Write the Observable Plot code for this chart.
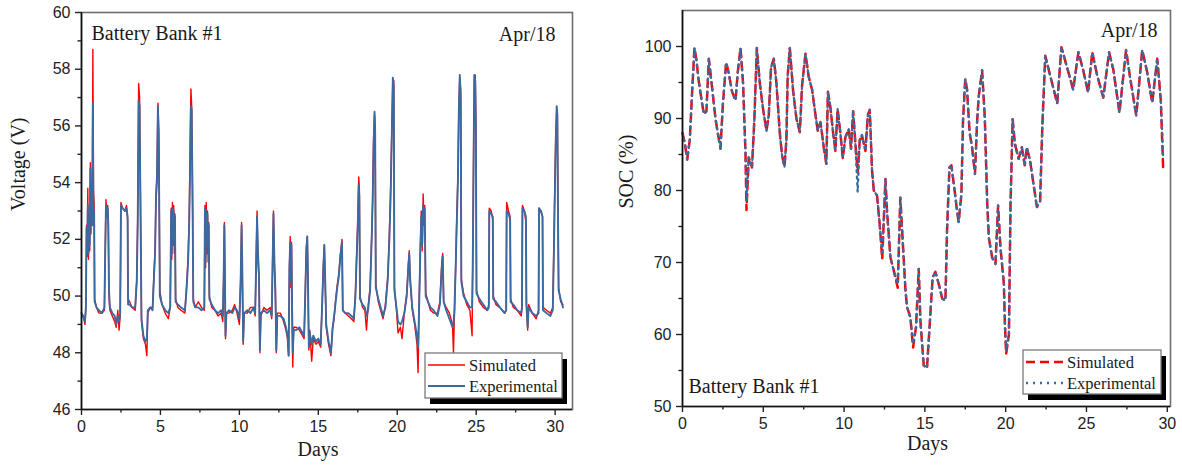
<!DOCTYPE html>
<html><head><meta charset="utf-8">
<script src="https://cdn.jsdelivr.net/npm/d3@7"></script>
<script src="https://cdn.jsdelivr.net/npm/@observablehq/plot@0.6"></script>
<style>
body{margin:0;background:#fff;}
#wrap{position:relative;width:1182px;height:467px;display:flex;}
#wrap svg{display:block}
</style></head><body>
<div id="wrap"></div>
<script>
// ---------- Voltage (left panel) ----------
const voltDays = [
0.00,0.10,0.22,0.28,0.32,0.36,0.40,0.44,0.48,0.52,
0.56,0.60,0.64,0.68,0.72,0.76,0.80,0.83,0.95,1.10,
1.30,1.45,1.50,1.55,1.60,1.66,1.70,1.74,1.80,1.95,
2.10,2.20,2.30,2.38,2.45,2.50,2.60,2.75,2.85,2.92,
2.95,3.05,3.20,3.40,3.50,3.56,3.62,3.68,3.74,3.80,
3.92,4.05,4.14,4.20,4.35,4.50,4.60,4.66,4.72,4.78,
4.84,4.90,4.96,5.10,5.30,5.50,5.62,5.68,5.72,5.76,
5.80,5.84,5.88,5.92,5.96,6.10,6.30,6.55,6.65,6.75,
6.82,6.88,6.93,6.98,7.04,7.08,7.20,7.40,7.60,7.78,
7.82,7.86,7.90,7.94,7.98,8.02,8.06,8.10,8.25,8.45,
8.65,8.85,8.95,9.00,9.05,9.08,9.12,9.18,9.35,9.55,
9.70,9.85,10.00,10.08,10.14,10.18,10.24,10.30,10.50,10.70,
10.90,11.00,11.05,11.12,11.18,11.24,11.30,11.36,11.55,11.75,
11.95,12.05,12.10,12.16,12.22,12.28,12.34,12.40,12.60,12.80,
12.95,13.05,13.12,13.17,13.22,13.26,13.30,13.34,13.38,13.44,
13.60,13.80,14.00,14.10,14.18,14.24,14.30,14.34,14.40,14.46,
14.58,14.68,14.85,15.00,15.15,15.25,15.32,15.38,15.44,15.50,
15.65,15.80,15.90,16.00,16.10,16.20,16.30,16.40,16.50,16.55,
16.70,16.90,17.10,17.25,17.35,17.42,17.50,17.56,17.60,17.64,
17.80,17.95,18.05,18.15,18.28,18.38,18.44,18.50,18.56,18.60,
18.64,18.80,18.95,19.10,19.25,19.40,19.50,19.58,19.66,19.72,
19.78,19.82,19.95,20.05,20.20,20.30,20.45,20.60,20.70,20.76,
20.82,20.95,21.10,21.25,21.32,21.38,21.46,21.52,21.58,21.64,
21.70,21.74,21.80,21.95,22.10,22.30,22.55,22.70,22.82,22.88,
22.94,23.10,23.30,23.50,23.56,23.62,23.70,23.78,23.84,23.90,
23.96,24.02,24.06,24.20,24.40,24.60,24.74,24.78,24.84,24.88,
24.94,24.98,25.02,25.20,25.45,25.70,25.80,25.83,25.95,26.05,
26.08,26.25,26.50,26.80,26.90,26.93,27.05,27.15,27.18,27.35,
27.60,27.85,27.90,27.93,28.05,28.15,28.18,28.26,28.32,28.55,
28.80,28.95,28.98,29.10,29.20,29.23,29.45,29.70,29.85,29.92,
29.98,30.04,30.10,30.14,30.18,30.22,30.35,30.50
];
const voltExperimental = [
49.4,49.3,49.1,49.6,52.4,51.6,53.2,51.5,52.8,51.8,
54.5,52.6,53.8,52.5,56.8,52.5,53.0,49.8,49.6,49.5,
49.4,49.6,51.5,53.2,52.8,53.1,52.5,50.2,49.6,49.4,
49.3,49.0,49.3,49.1,49.4,53.2,53.1,53.0,53.1,52.8,
49.7,49.7,49.6,49.6,50.5,52.5,56.9,56.7,52.8,49.2,
48.6,48.4,48.5,49.5,49.6,49.5,50.8,51.5,53.5,54.0,
56.7,55.2,50.0,49.7,49.5,49.4,49.6,53.0,51.5,53.1,
52.0,53.0,51.8,52.8,49.8,49.7,49.6,49.5,50.2,51.2,
52.5,54.5,56.7,56.6,53.0,49.8,49.6,49.6,49.5,49.6,
53.1,51.2,53.0,51.8,52.9,51.5,52.5,49.9,49.7,49.5,
49.4,49.5,49.3,50.5,52.5,51.0,48.6,49.4,49.5,49.4,
49.6,49.5,49.2,50.5,52.5,51.2,48.4,49.4,49.5,49.4,
49.6,49.4,50.8,52.8,51.5,50.8,48.1,49.4,49.5,49.4,
49.5,49.3,51.0,52.9,51.2,50.2,48.1,49.3,49.3,49.2,
48.9,48.6,47.9,51.0,51.9,50.5,51.8,49.5,48.0,48.8,
48.8,48.9,48.7,48.6,50.2,51.6,52.1,50.8,48.2,48.7,
48.3,48.6,48.4,48.5,48.3,49.8,51.0,51.8,50.5,49.0,
48.4,48.0,48.8,49.3,49.8,50.3,50.7,51.4,51.9,49.5,
49.4,49.4,49.3,49.2,50.0,51.2,52.5,53.9,53.5,49.9,
49.7,49.6,49.3,49.5,50.2,52.0,53.3,55.2,56.5,55.8,
50.3,49.9,49.6,49.3,49.6,50.6,52.0,53.5,55.8,57.7,
57.4,50.2,49.6,49.1,49.0,49.1,49.4,50.0,51.0,51.5,
50.6,49.6,49.1,48.6,48.2,49.5,51.5,52.8,51.8,53.2,
52.6,53.1,50.0,49.8,49.6,49.5,49.3,49.7,51.0,51.4,
49.8,49.5,49.2,48.9,49.0,49.5,51.0,52.8,54.0,56.5,
57.8,57.0,50.5,50.0,49.8,49.6,49.6,51.0,55.0,57.8,
57.6,56.0,50.1,49.9,49.7,49.5,49.6,53.0,52.9,52.8,
49.9,49.8,49.6,49.4,49.5,53.0,52.9,52.7,49.8,49.7,
49.5,49.4,49.6,53.1,53.0,52.8,49.7,48.9,49.6,49.4,
49.3,49.4,53.1,53.0,52.8,49.5,49.4,49.3,49.5,51.5,
53.5,55.5,56.7,56.4,53.0,50.2,49.9,49.6
];
const voltSimulated = [
49.4,49.3,49.0,49.7,52.5,51.4,53.8,51.3,52.9,51.6,
54.7,52.2,54.0,52.6,58.7,53.7,53.3,49.9,49.6,49.4,
49.4,49.5,51.4,53.4,52.9,53.2,52.3,50.0,49.5,49.3,
49.1,48.9,49.5,48.8,49.3,53.3,53.1,53.0,53.2,52.7,
49.9,49.8,49.6,49.5,50.6,52.8,57.5,57.0,53.2,49.1,
48.5,48.3,47.9,49.4,49.6,49.6,50.9,51.6,53.6,54.4,
56.8,55.8,50.2,49.7,49.4,49.2,49.6,53.1,51.3,53.3,
51.8,53.2,51.5,52.9,49.9,49.6,49.5,49.4,50.3,51.3,
52.7,55.3,57.3,56.7,53.1,49.9,49.6,49.8,49.6,49.5,
53.2,51.0,53.3,51.5,53.0,51.2,52.6,50.0,49.6,49.5,
49.3,49.4,49.1,50.6,52.6,50.8,48.5,49.4,49.4,49.5,
49.7,49.4,49.0,50.6,52.6,51.0,48.3,49.4,49.4,49.6,
49.6,49.3,50.9,53.0,51.2,50.6,48.0,49.3,49.6,49.5,
49.6,49.2,51.1,53.0,51.0,50.1,48.0,49.4,49.4,49.1,
48.8,48.5,47.9,51.0,52.1,50.3,51.9,49.3,47.5,48.9,
48.9,48.8,48.6,48.5,50.3,51.7,52.1,50.7,48.1,48.8,
47.7,48.5,48.3,48.4,48.2,49.9,51.1,51.8,50.3,48.9,
48.3,47.9,48.9,49.2,49.9,50.4,50.8,51.5,52.0,49.5,
49.4,49.3,49.2,49.1,50.1,51.3,52.7,54.2,53.8,50.0,
49.6,49.5,48.8,49.6,50.3,52.1,53.4,55.6,56.4,56.0,
50.4,49.8,49.5,49.2,49.7,50.7,52.2,53.8,56.0,57.6,
57.6,50.3,49.5,48.7,48.9,48.5,49.4,50.1,51.1,51.6,
50.5,49.5,49.0,48.3,47.3,49.6,51.7,53.0,51.6,53.6,
52.5,53.2,50.1,49.8,49.5,49.4,49.4,49.8,51.2,51.5,
49.8,49.6,49.4,49.0,48.0,49.3,51.1,53.0,54.2,56.6,
57.7,57.3,50.6,50.1,49.7,49.5,48.6,51.1,55.5,57.6,
57.8,56.2,50.2,49.8,49.6,49.5,49.7,53.1,53.0,52.7,
50.0,49.7,49.6,49.4,49.5,53.3,53.0,52.8,49.9,49.6,
49.5,49.3,49.6,53.2,53.0,52.6,49.8,48.8,49.7,49.4,
49.2,49.5,53.1,53.0,52.8,49.6,49.5,49.4,49.6,51.8,
54.0,55.6,56.6,56.5,53.2,50.3,49.8,49.7
];

// ---------- SOC (right panel) ----------
const socDays = [
0.00,0.15,0.29,0.45,0.60,0.74,0.87,1.00,1.15,1.32,
1.48,1.63,1.84,2.04,2.19,2.35,2.50,2.70,2.87,3.07,
3.28,3.42,3.59,3.75,3.90,3.96,4.10,4.30,4.45,4.60,
4.78,5.00,5.20,5.34,5.48,5.65,5.81,6.02,6.16,6.31,
6.43,6.51,6.64,6.85,7.05,7.26,7.40,7.61,7.81,8.02,
8.23,8.37,8.54,8.74,8.90,9.00,9.15,9.32,9.46,9.60,
9.77,9.92,10.08,10.29,10.43,10.56,10.70,10.84,10.97,11.10,
11.32,11.47,11.59,11.73,11.84,12.04,12.20,12.36,12.56,12.66,
12.87,13.07,13.32,13.48,13.65,13.80,13.90,14.10,14.27,14.45,
14.62,14.72,14.93,15.13,15.34,15.48,15.65,15.86,16.07,16.27,
16.37,16.52,16.64,16.84,16.99,17.09,17.26,17.36,17.50,17.61,
17.77,17.92,18.10,18.23,18.33,18.54,18.71,18.86,18.96,19.16,
19.37,19.53,19.68,19.89,19.95,20.03,20.20,20.30,20.43,20.57,
20.80,21.00,21.18,21.31,21.52,21.72,21.93,22.13,22.27,22.45,
22.75,23.19,23.45,23.80,24.18,24.50,24.80,25.10,25.36,25.66,
26.04,26.40,26.67,27.04,27.45,27.70,28.08,28.45,28.75,29.07,
29.38,29.60,29.75
];
const socExperimental = [
88.0,86.5,84.3,87.0,93.9,99.8,98.0,95.3,93.0,90.6,
91.0,98.3,94.1,90.0,87.9,85.8,92.0,97.8,96.2,93.7,
92.5,96.4,99.8,94.8,85.1,78.5,84.6,83.2,90.0,99.8,
95.0,91.1,88.3,90.5,97.1,98.3,95.0,88.0,84.9,83.3,
87.0,96.0,99.8,93.7,90.0,88.1,94.6,99.0,95.8,94.0,
90.5,88.3,89.5,86.0,83.7,93.7,91.6,88.0,85.5,91.3,
88.0,84.5,87.4,88.5,85.8,91.0,86.5,79.8,87.0,87.7,
85.5,90.5,91.2,82.8,80.0,79.3,75.4,71.0,81.6,77.0,
70.7,68.9,67.0,79.0,72.1,66.1,63.8,62.4,58.7,61.0,
69.1,62.0,55.7,55.3,62.9,67.9,68.7,67.0,65.0,64.7,
74.4,83.2,83.5,80.0,77.2,75.6,79.5,89.7,95.5,94.0,
88.0,86.0,82.3,89.5,93.0,96.7,90.0,78.0,73.4,70.7,
69.8,77.9,72.0,67.0,61.5,57.8,60.0,78.0,89.9,86.5,
84.4,86.0,83.5,86.0,84.0,80.9,77.7,78.5,89.0,98.7,
96.0,92.1,99.9,97.1,94.0,99.2,96.7,93.6,99.2,96.0,
92.9,99.2,96.7,90.8,99.5,95.7,90.4,99.5,96.5,92.2,
98.3,92.5,84.5
];
const socSimulated = [
88.0,86.5,84.3,87.0,93.9,99.8,98.0,95.3,93.0,90.6,
91.0,98.3,94.1,90.0,87.9,85.8,92.0,97.8,96.2,93.7,
92.5,96.4,99.8,94.8,85.1,77.3,84.6,83.2,90.0,99.8,
95.0,91.1,88.3,90.5,97.1,98.3,95.0,88.0,84.9,83.3,
87.0,96.0,99.8,93.7,90.0,88.1,94.6,99.0,95.8,94.0,
90.5,88.3,89.5,86.0,83.7,93.7,91.6,88.0,85.5,91.3,
88.0,84.5,87.4,88.5,85.8,91.0,86.5,82.5,87.0,87.7,
85.5,90.5,91.2,82.8,80.0,79.3,75.4,70.5,81.6,77.0,
70.7,68.9,66.5,79.0,72.1,66.1,63.8,62.4,58.2,61.0,
69.1,62.0,55.7,55.3,62.9,67.9,68.7,67.0,65.0,64.7,
74.4,83.2,83.5,80.0,77.2,75.6,79.5,89.7,95.5,94.0,
88.0,86.0,82.3,89.5,93.0,96.7,90.0,78.0,73.4,70.7,
69.8,77.9,72.0,67.0,61.5,57.3,60.0,78.0,89.9,86.5,
84.4,86.0,83.5,86.0,84.0,80.9,77.7,78.5,89.0,98.7,
96.0,92.1,99.9,97.1,94.0,99.2,96.7,93.6,99.2,96.0,
92.9,99.2,96.7,90.8,99.5,95.7,90.4,99.5,96.5,92.2,
98.3,92.5,82.8
];

// ---------- axes / labels ----------
const dayTicks = [0, 5, 10, 15, 20, 25, 30];
const dayMinorTicks = [2.5, 7.5, 12.5, 17.5, 22.5, 27.5];
const voltXDomain = [0, 31.1];
const voltYDomain = [46, 60];
const voltYTicks = [46, 48, 50, 52, 54, 56, 58, 60];
const voltYMinorTicks = [47, 49, 51, 53, 55, 57, 59];
const socXDomain = [0, 30.2];
const socYDomain = [50, 105];
const socYTicks = [50, 60, 70, 80, 90, 100];
const socYMinorTicks = [55, 65, 75, 85, 95];
const seriesLabels = ["Simulated", "Experimental"];
const xTitle = "Days";
const voltTitle = "Voltage (V)";
const socTitle = "SOC (%)";
const bankLabel = "Battery Bank #1";
const monthLabel = "Apr/18";

const serif = "'Liberation Serif','Times New Roman',serif";
const sans = "'Liberation Sans',Arial,sans-serif";
const RED = "#ff0000", BLUE = "#3b69a0";

const volt = voltDays.map((d, i) => ({day: d, exp: voltExperimental[i], sim: voltSimulated[i]}));
const soc = socDays.map((d, i) => ({day: d, exp: socExperimental[i], sim: socSimulated[i]}));

function axes(xTicks, xMinor, yTicks, yMinor) {
  return [
    Plot.axisX({ticks: xTicks, tickSize: 6, tickPadding: 5, label: null, strokeWidth: 1.4, tickFormat: d => d}),
    Plot.axisX({ticks: xMinor, tickSize: 3.5, label: null, strokeWidth: 1.4, tickFormat: () => ""}),
    Plot.axisY({ticks: yTicks, tickSize: 6, tickPadding: 5, label: null, strokeWidth: 1.4, tickFormat: d => d}),
    Plot.axisY({ticks: yMinor, tickSize: 3.5, label: null, strokeWidth: 1.4, tickFormat: () => ""})
  ];
}
const txt = (s, o) => Plot.text([s], {text: d => d, fontFamily: serif, fontSize: 20, fill: "#1a1a1a", ...o});

const left = Plot.plot({
  width: 590, height: 467,
  marginLeft: 81, marginRight: 18, marginTop: 12, marginBottom: 58,
  style: {fontFamily: sans, fontSize: "16px", color: "#222", background: "#fff", overflow: "visible"},
  x: {domain: voltXDomain},
  y: {domain: voltYDomain},
  marks: [
    Plot.frame({stroke: "#6e6e6e", strokeWidth: 1.6}),
    Plot.line(volt, {x: "day", y: "sim", stroke: RED, strokeWidth: 1.4}),
    Plot.line(volt, {x: "day", y: "exp", stroke: BLUE, strokeWidth: 1.9}),
    Plot.ruleX([voltXDomain[0]], {stroke: "#111", strokeWidth: 1.6}),
    Plot.ruleY([voltYDomain[0]], {stroke: "#111", strokeWidth: 1.6}),
    ...axes(dayTicks, dayMinorTicks, voltYTicks, voltYMinorTicks),
    txt(voltTitle, {frameAnchor: "left", dx: -63, rotate: -90}),
    txt(xTitle, {frameAnchor: "bottom", dx: -9, dy: 46}),
    txt(bankLabel, {frameAnchor: "top-left", textAnchor: "start", lineAnchor: "bottom", dx: 10, dy: 27}),
    txt(monthLabel, {frameAnchor: "top-right", textAnchor: "end", lineAnchor: "bottom", dx: -17, dy: 28})
  ]
});

const right = Plot.plot({
  width: 592, height: 467,
  marginLeft: 92, marginRight: 12, marginTop: 10, marginBottom: 61,
  style: {fontFamily: sans, fontSize: "16px", color: "#222", background: "#fff", overflow: "visible"},
  x: {domain: socXDomain},
  y: {domain: socYDomain},
  marks: [
    Plot.frame({stroke: "#6e6e6e", strokeWidth: 1.6}),
    Plot.line(soc, {x: "day", y: "sim", stroke: RED, strokeWidth: 2.5, strokeDasharray: "8,5"}),
    Plot.line(soc, {x: "day", y: "exp", stroke: BLUE, strokeWidth: 2.3, strokeDasharray: "2,4.5"}),
    Plot.ruleX([socXDomain[0]], {stroke: "#111", strokeWidth: 1.6}),
    Plot.ruleY([socYDomain[0]], {stroke: "#111", strokeWidth: 1.6}),
    ...axes(dayTicks, dayMinorTicks, socYTicks, socYMinorTicks),
    txt(socTitle, {frameAnchor: "left", dx: -56, rotate: -90}),
    txt(xTitle, {frameAnchor: "bottom", dx: 1, dy: 43}),
    txt(bankLabel, {frameAnchor: "bottom-left", textAnchor: "start", lineAnchor: "bottom", dx: 6, dy: -14}),
    txt(monthLabel, {frameAnchor: "top-right", textAnchor: "end", lineAnchor: "bottom", dx: -13, dy: 26})
  ]
});

const wrap = document.getElementById("wrap");
wrap.appendChild(left);
wrap.appendChild(right);

// ---------- legends ----------
const overlay = d3.select("#wrap").append("svg")
  .attr("width", 1182).attr("height", 467)
  .style("position", "absolute").style("left", 0).style("top", 0)
  .style("pointer-events", "none");

function legend(x, y, w, h, styles) {
  const g = overlay.append("g");
  g.append("rect").attr("x", x + 5).attr("y", y + 6).attr("width", w).attr("height", h).attr("fill", "#000");
  g.append("rect").attr("x", x).attr("y", y).attr("width", w).attr("height", h)
    .attr("fill", "#fff").attr("stroke", "#7a7a7a").attr("stroke-width", 1.3);
  seriesLabels.forEach((lab, i) => {
    const cy = y + 12 + i * 21;
    const s = styles[i];
    g.append("line").attr("x1", x + 3).attr("x2", x + 40).attr("y1", cy).attr("y2", cy)
      .attr("stroke", s.color).attr("stroke-width", s.width).attr("stroke-dasharray", s.dash || null);
    g.append("text").attr("x", x + 44).attr("y", cy + 6).text(lab)
      .attr("font-family", serif).attr("font-size", 16.5).attr("fill", "#1a1a1a");
  });
}
legend(425, 353, 137, 45, [{color: RED, width: 1.4}, {color: BLUE, width: 1.9}]);
legend(1023, 350, 138, 44, [{color: RED, width: 2.5, dash: "9,5"}, {color: BLUE, width: 2.3, dash: "2,5"}]);
</script>
</body></html>
